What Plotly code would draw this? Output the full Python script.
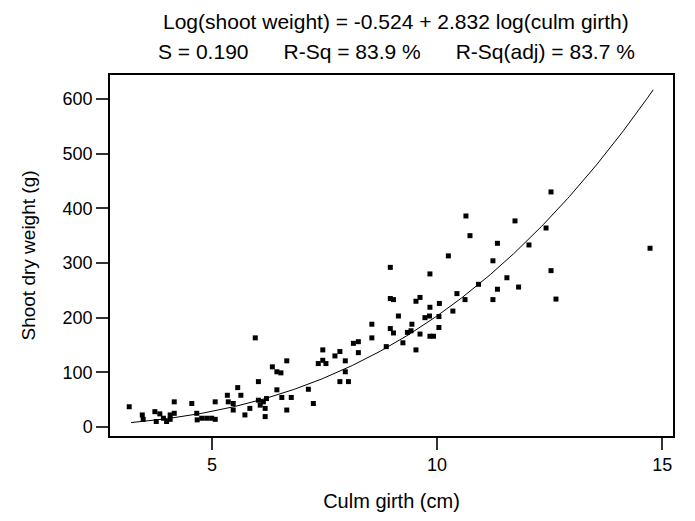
import numpy as np
import plotly.graph_objects as go

# Observed data: culm girth (cm) and shoot dry weight (g)
girth = [3.16, 3.45, 3.47, 3.73, 3.76, 3.84, 3.92, 3.99, 4.07, 4.07, 4.16, 4.16,
         4.55, 4.66, 4.67, 4.77, 4.88, 4.99, 5.07, 5.07, 5.34, 5.36, 5.47, 5.47,
         5.57, 5.64, 5.73, 5.84, 6.03, 6.03,
         5.96, 6.07, 6.14, 6.18, 6.21, 6.18, 6.34, 6.44, 6.53, 6.66, 6.44, 6.55,
         6.76, 6.66, 7.14, 7.25, 7.46, 7.36, 7.46, 7.53, 7.73, 7.84, 7.96, 7.96,
         7.84, 8.03, 8.14, 8.25, 8.25, 8.55, 8.55, 8.87,
         10.64, 11.73, 10.73, 11.34, 10.25, 11.24, 8.96, 9.84, 11.55, 10.92, 11.34,
         11.81, 10.44, 10.62, 11.24, 8.96, 9.03, 9.53, 9.62, 10.05, 9.84, 10.35,
         9.14, 9.73, 9.83, 10.04, 9.44, 8.96, 9.03, 9.34, 9.42, 9.62, 10.04, 9.24,
         9.84, 9.92, 9.53,
         12.53, 12.42, 12.04, 14.73, 12.53, 12.64]
weight = [37, 22, 14, 28, 10, 24, 16, 10, 14, 22, 46, 25,
          43, 25, 13, 16, 16, 16, 14, 46, 58, 46, 43, 31,
          72, 58, 22, 34, 83, 49,
          163, 40, 46, 34, 52, 19, 110, 101, 99, 121, 68, 54,
          54, 31, 69, 43, 141, 116, 122, 116, 130, 138, 121, 101,
          83, 83, 153, 156, 136, 188, 163, 147,
          386, 377, 350, 336, 313, 304, 292, 280, 273, 261, 252,
          256, 244, 233, 233, 235, 233, 230, 237, 226, 219, 212,
          203, 200, 203, 202, 188, 180, 172, 173, 176, 170, 182, 154,
          166, 166, 141,
          430, 364, 333, 327, 286, 234]

# Fitted model: log10(weight) = b0 + b1*log10(girth)
b0 = -0.524
b1 = 2.832
fit_x_min, fit_x_max = 3.2, 14.8

x_ticks = [5, 10, 15]
y_ticks = [0, 100, 200, 300, 400, 500, 600]

fx = np.linspace(fit_x_min, fit_x_max, 300)
fy = 10 ** (b0 + b1 * np.log10(fx))

FONT = "Liberation Sans Narrow, Arial Narrow, Liberation Sans, Arial, sans-serif"

fig = go.Figure()
fig.add_trace(go.Scatter(x=girth, y=weight, mode="markers",
                         marker=dict(symbol="square", size=5, color="black",
                                     line=dict(width=0)),
                         showlegend=False))
fig.add_trace(go.Scatter(x=fx, y=fy, mode="lines",
                         line=dict(color="black", width=1),
                         showlegend=False))

fig.update_layout(
    width=687, height=513,
    margin=dict(l=102, r=22, t=67, b=85),
    paper_bgcolor="white", plot_bgcolor="white",
    font=dict(family=FONT, size=18, color="black"),
    xaxis=dict(range=[2.733, 15.24], tickvals=x_ticks, ticks="outside",
               ticklen=12, tickwidth=1.5, tickcolor="#333",
               showline=True, linecolor="black", linewidth=1.5, mirror=True,
               showgrid=False, zeroline=False,
               title=dict(text="Culm girth (cm)", font=dict(size=20), standoff=20),
               tickfont=dict(size=18)),
    yaxis=dict(range=[-16.5, 643.9], tickvals=y_ticks, ticks="outside",
               ticklen=12, tickwidth=1.5, tickcolor="#333",
               showline=True, linecolor="black", linewidth=1.5, mirror=True,
               showgrid=False, zeroline=False,
               title=dict(text="Shoot dry weight (g)", font=dict(size=19), standoff=22),
               tickfont=dict(size=18)),
    annotations=[
        dict(text="Log(shoot weight) = -0.524 + 2.832 log(culm girth)",
             xref="paper", yref="paper", x=0.508, y=1.0, yshift=54,
             xanchor="center", yanchor="middle", showarrow=False,
             font=dict(size=21)),
        dict(text="S = 0.190&nbsp;&nbsp;&nbsp;&nbsp;&nbsp;&nbsp;R-Sq = 83.9 %&nbsp;&nbsp;&nbsp;&nbsp;&nbsp;&nbsp;R-Sq(adj) = 83.7 %",
             xref="paper", yref="paper", x=0.508, y=1.0, yshift=24,
             xanchor="center", yanchor="middle", showarrow=False,
             font=dict(size=21)),
    ],
)

fig.write_html("out.html")
